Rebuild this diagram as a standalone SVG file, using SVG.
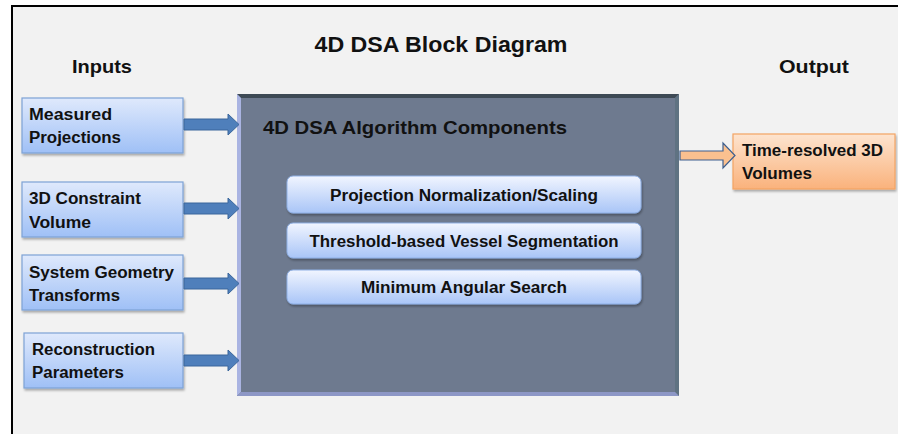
<svg xmlns="http://www.w3.org/2000/svg" width="898" height="434" viewBox="0 0 898 434">
<style>
  text { font-family: "Liberation Sans", Arial, sans-serif; font-weight: bold; fill: #111; }
  .h { font-size: 19px; }
  .lbl { font-size: 16px; }
  .in { fill: url(#gIn); stroke: #7ea2d6; stroke-width: 1.2; filter: url(#sh); }
  .comp { fill: url(#gComp); stroke: #8fb0e6; stroke-width: 1; filter: url(#sh); }
  .arr { fill: #4f7fbb; stroke: #3b679c; stroke-width: 1; }
</style>
<defs>
  <linearGradient id="gIn" x1="0" y1="0" x2="0" y2="1">
    <stop offset="0" stop-color="#dfe9fc"/>
    <stop offset="1" stop-color="#9fc0f6"/>
  </linearGradient>
  <linearGradient id="gComp" x1="0" y1="0" x2="0" y2="1">
    <stop offset="0" stop-color="#f1f5ff"/>
    <stop offset="1" stop-color="#a9c5f7"/>
  </linearGradient>
  <linearGradient id="gOut" x1="0" y1="0" x2="0" y2="1">
    <stop offset="0" stop-color="#fde4cf"/>
    <stop offset="1" stop-color="#fab27c"/>
  </linearGradient>
  <filter id="sh" x="-10%" y="-20%" width="125%" height="150%">
    <feDropShadow dx="1" dy="2" stdDeviation="1.2" flood-color="#000" flood-opacity="0.3"/>
  </filter>
</defs>
<rect x="0" y="0" width="898" height="434" fill="#ffffff"/>
<rect x="12" y="6" width="886" height="428" fill="#f2f2f2"/>
<line x1="12" y1="6" x2="898" y2="6" stroke="#000" stroke-width="2"/>
<line x1="12" y1="5" x2="12" y2="434" stroke="#000" stroke-width="2"/>

<text class="h" x="441" y="52" text-anchor="middle" style="font-size:22px" textLength="253" lengthAdjust="spacingAndGlyphs">4D DSA Block Diagram</text>
<text class="h" x="102" y="73" text-anchor="middle" textLength="60" lengthAdjust="spacingAndGlyphs">Inputs</text>
<text class="h" x="814" y="73" text-anchor="middle" textLength="70" lengthAdjust="spacingAndGlyphs">Output</text>

<g id="algo">
  <rect x="237" y="94" width="442" height="302" fill="#6e7a8f"/>
  <polygon points="237,94 679,94 675,98 241,98" fill="#3e4a55"/>
  <polygon points="237,94 241,98 241,392 237,396" fill="#aab4e2"/>
  <polygon points="679,94 679,396 675,392 675,98" fill="#5f7282"/>
  <polygon points="237,396 679,396 675,392 241,392" fill="#8d97c6"/>
  <text class="h" x="263" y="134" textLength="304" lengthAdjust="spacingAndGlyphs">4D DSA Algorithm Components</text>
</g>

<g id="comp1">
  <rect class="comp" x="287" y="176" width="354" height="37" rx="6"/>
  <text class="lbl" x="464" y="201" text-anchor="middle" textLength="268" lengthAdjust="spacingAndGlyphs">Projection Normalization/Scaling</text>
</g>
<g id="comp2">
  <rect class="comp" x="287" y="223" width="354" height="35" rx="6"/>
  <text class="lbl" x="464" y="247" text-anchor="middle" textLength="309" lengthAdjust="spacingAndGlyphs">Threshold-based Vessel Segmentation</text>
</g>
<g id="comp3">
  <rect class="comp" x="287" y="270" width="354" height="34" rx="6"/>
  <text class="lbl" x="464" y="293" text-anchor="middle" textLength="206" lengthAdjust="spacingAndGlyphs">Minimum Angular Search</text>
</g>

<g id="in1">
  <rect class="in" x="22" y="98" width="161" height="55"/>
  <text class="lbl" x="29" y="120" textLength="83" lengthAdjust="spacingAndGlyphs">Measured</text>
  <text class="lbl" x="29" y="143" textLength="92" lengthAdjust="spacingAndGlyphs">Projections</text>
</g>
<g id="in2">
  <rect class="in" x="22" y="182" width="161" height="55"/>
  <text class="lbl" x="29" y="204" textLength="112" lengthAdjust="spacingAndGlyphs">3D Constraint</text>
  <text class="lbl" x="29" y="228" textLength="62" lengthAdjust="spacingAndGlyphs">Volume</text>
</g>
<g id="in3">
  <rect class="in" x="22" y="255" width="161" height="55"/>
  <text class="lbl" x="29" y="278" textLength="145" lengthAdjust="spacingAndGlyphs">System Geometry</text>
  <text class="lbl" x="29" y="301" textLength="91" lengthAdjust="spacingAndGlyphs">Transforms</text>
</g>
<g id="in4">
  <rect class="in" x="24" y="333" width="159" height="55"/>
  <text class="lbl" x="32" y="355" textLength="123" lengthAdjust="spacingAndGlyphs">Reconstruction</text>
  <text class="lbl" x="32" y="378" textLength="92" lengthAdjust="spacingAndGlyphs">Parameters</text>
</g>

<g id="out">
  <rect x="733" y="134" width="162" height="55" fill="url(#gOut)" stroke="#f4a463" stroke-width="1.2" filter="url(#sh)"/>
  <text class="lbl" x="742" y="156" textLength="141" lengthAdjust="spacingAndGlyphs">Time-resolved 3D</text>
  <text class="lbl" x="742" y="179" textLength="70" lengthAdjust="spacingAndGlyphs">Volumes</text>
</g>

<g id="connectors">
  <polygon class="arr" points="184,119 228,119 228,114 239,124.5 228,135 228,130 184,130"/>
  <polygon class="arr" points="184,203 228,203 228,198 239,208.5 228,219 228,214 184,214"/>
  <polygon class="arr" points="184,278 228,278 228,273 239,283.5 228,294 228,289 184,289"/>
  <polygon class="arr" points="184,355 228,355 228,350 239,360.5 228,371 228,366 184,366"/>
  <polygon points="680,151 723,151 723,143 735,155.5 723,168 723,160 680,160" fill="#fac08f" stroke="#3d5f8f" stroke-width="1.2"/>
</g>
</svg>
